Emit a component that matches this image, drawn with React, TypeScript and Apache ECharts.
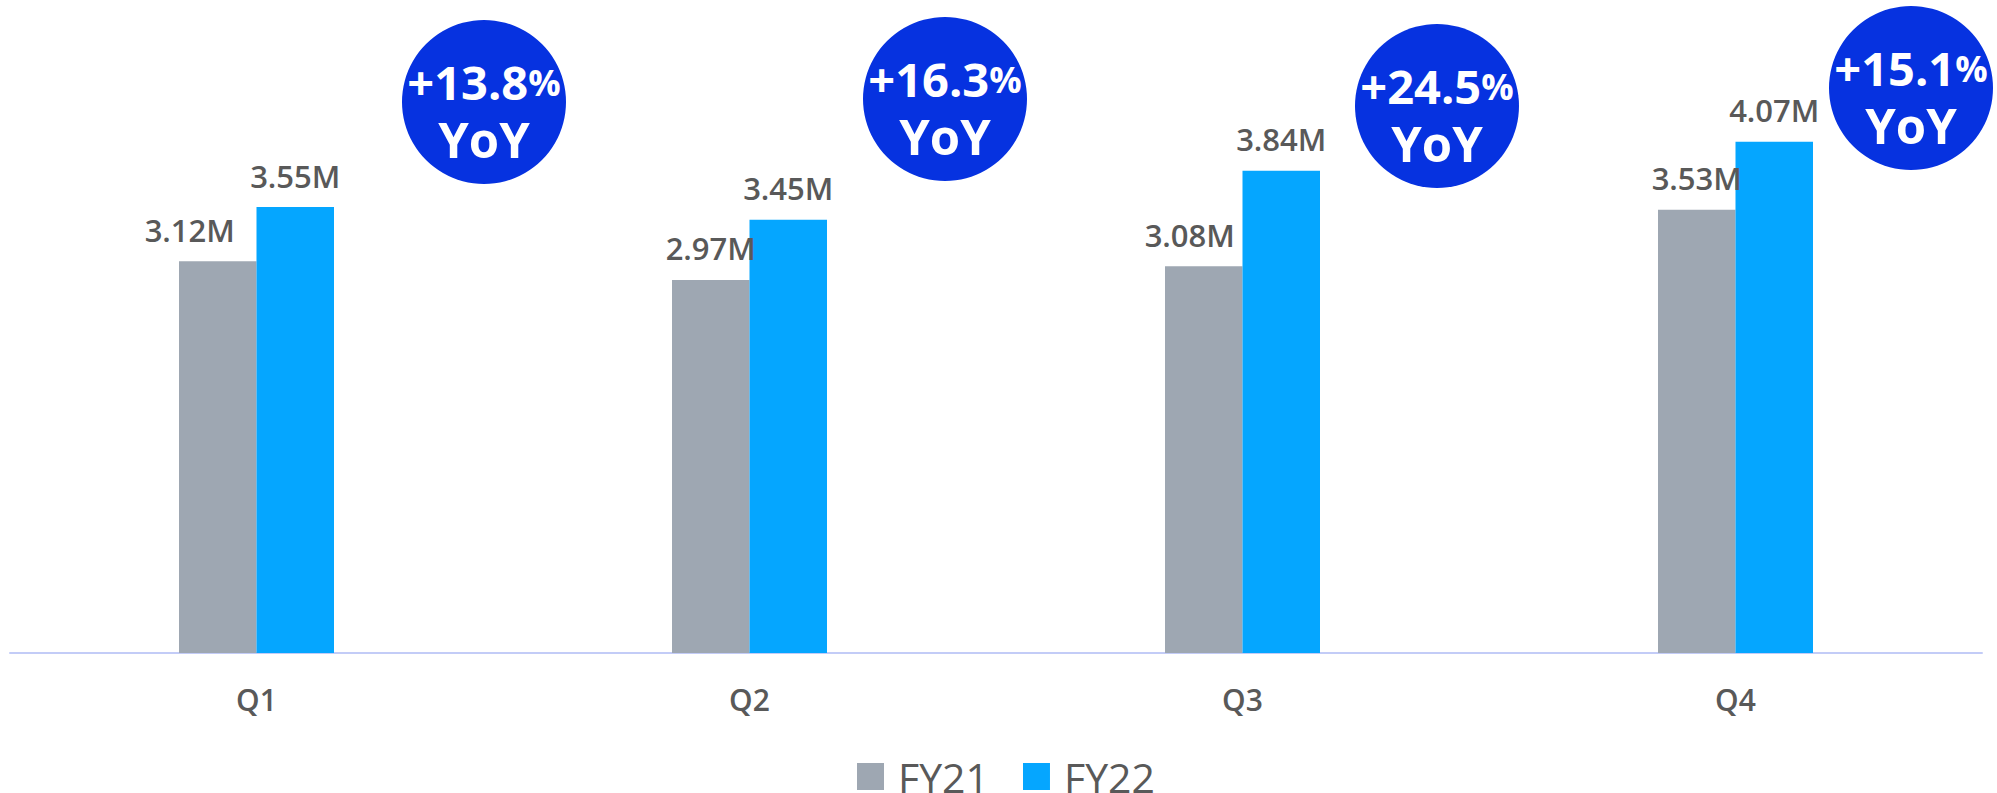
import React, { useEffect, useRef } from "react";
import * as echarts from "echarts";

const categories = ["Q1", "Q2", "Q3", "Q4"];
const fy21 = [3.12, 2.97, 3.08, 3.53];
const fy22 = [3.55, 3.45, 3.84, 4.07];
const yoyValues = ["+13.8", "+16.3", "+24.5", "+15.1"];
const seriesNames = ["FY21", "FY22"];

// badge layout (annotation positions, pixels)
const badgeCenters = [
  [484, 102],
  [945, 99],
  [1437, 106],
  [1911, 88],
];
const fy21LabelShift = [-28, 0, -14, 0];

const FONT = "'Open Sans', 'Noto Sans', sans-serif";
const GRAY = "#9ea7b2";
const BLUE = "#05a6ff";
const BADGE = "#0632e0";
const TEXT = "#595959";

export default function App() {
  const ref = useRef<HTMLDivElement>(null);
  useEffect(() => {
    document.body.style.margin = "0";
    const chart = echarts.init(ref.current!, undefined, { renderer: "svg" });
    const valueLabel = {
      show: true,
      position: "top",
      distance: 16,
      fontFamily: FONT,
      fontSize: 31,
      fontWeight: 600,
      color: TEXT,
      formatter: (p: any) => p.value.toFixed(2) + "M",
    };
    const graphics: any[] = [];
    yoyValues.forEach((v, i) => {
      const [cx, cy] = badgeCenters[i];
      graphics.push({
        type: "circle",
        shape: { cx, cy, r: 82 },
        style: { fill: BADGE },
        z: 10,
      });
      graphics.push({
        type: "text",
        x: cx,
        y: cy - 20,
        z: 11,
        style: {
          text: `{n|${v}}{p|%}`,
          align: "center",
          verticalAlign: "middle",
          fill: "#ffffff",
          rich: {
            n: { fontFamily: FONT, fontWeight: 700, fontSize: 47, lineHeight: 46, fill: "#fff", color: "#fff" },
            p: { fontFamily: FONT, fontWeight: 700, fontSize: 36, lineHeight: 46, fill: "#fff", color: "#fff" },
          },
        },
      });
      graphics.push({
        type: "text",
        x: cx,
        y: cy + 37,
        z: 11,
        style: {
          text: "YoY",
          align: "center",
          verticalAlign: "middle",
          fill: "#ffffff",
          font: `700 49px ${FONT}`,
          lineHeight: 46,
        },
      });
    });
    chart.setOption({
      animation: false,
      grid: { left: 10, right: 15, top: 25, bottom: 140, containLabel: false },
      legend: {
        data: seriesNames,
        left: 852,
        top: 751,
        icon: "rect",
        itemWidth: 27,
        itemHeight: 27,
        itemGap: 34,
        textStyle: { fontFamily: FONT, fontSize: 41, lineHeight: 38, color: TEXT, padding: [0, 0, 0, 9] },
      },
      xAxis: {
        type: "category",
        data: categories,
        axisLine: { show: true, lineStyle: { color: "#c3ccf7", width: 2 } },
        axisTick: { show: false },
        axisLabel: { fontFamily: FONT, fontSize: 30, fontWeight: 600, color: TEXT, margin: 31 },
      },
      yAxis: {
        type: "value",
        min: 0,
        max: 5,
        show: false,
        splitLine: { show: false },
      },
      series: [
        {
          name: seriesNames[0],
          type: "bar",
          barWidth: 77.5,
          barGap: "0%",
          itemStyle: { color: GRAY },
          data: fy21.map((v, i) => ({
            value: v,
            label: { offset: [fy21LabelShift[i], 0] },
          })),
          label: valueLabel,
        },
        {
          name: seriesNames[1],
          type: "bar",
          barWidth: 77.5,
          barGap: "0%",
          itemStyle: { color: BLUE },
          data: fy22,
          label: valueLabel,
        },
      ],
      graphic: graphics,
    });
    return () => chart.dispose();
  }, []);
  return <div ref={ref} style={{ width: 1997, height: 793 }} />;
}
